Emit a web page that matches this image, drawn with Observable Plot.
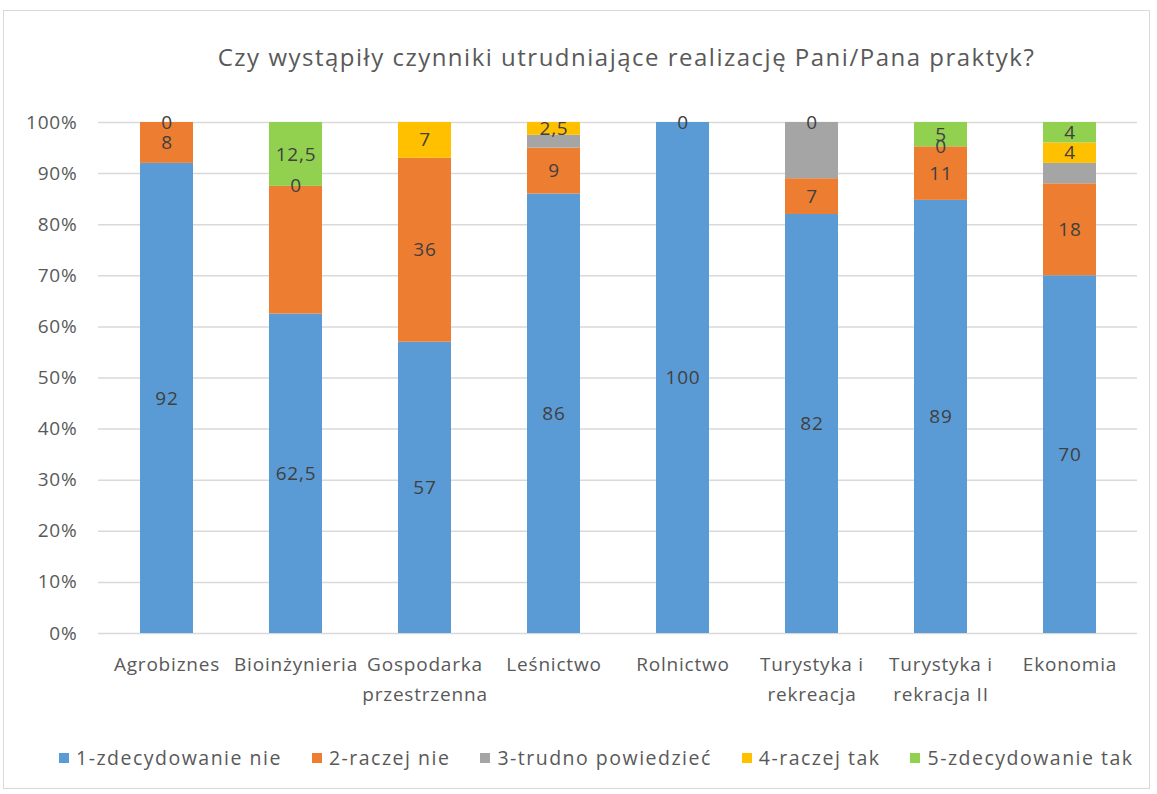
<!DOCTYPE html>
<html><head><meta charset="utf-8">
<script src="https://cdn.jsdelivr.net/npm/d3@7"></script>
<script src="https://cdn.jsdelivr.net/npm/@observablehq/plot@0.6"></script>
<style>
body{margin:0;background:#fff;font-family:"Open Sans",sans-serif;}
#frame{position:absolute;left:3px;top:10px;width:1147px;height:779px;border:1px solid #d9d9d9;box-sizing:border-box;}
#title{position:absolute;left:98px;width:1057px;top:40px;text-align:center;font-size:24px;letter-spacing:1.5px;color:#595959;}
#chart{position:absolute;left:0;top:90px;}
#legend{position:absolute;left:59px;top:744px;display:flex;gap:30px;font-size:19.5px;letter-spacing:1.5px;color:#595959;}
#legend .item{display:flex;align-items:center;}
#legend .sw{width:10px;height:10px;margin-right:7px;}
</style></head>
<body>
<div id="frame"></div>
<div id="title">Czy wystąpiły czynniki utrudniające realizację Pani/Pana praktyk?</div>
<div id="chart"></div>
<div id="legend"></div>
<script>
const categories = ["Agrobiznes","Bioinżynieria","Gospodarka przestrzenna","Leśnictwo","Rolnictwo","Turystyka i rekreacja","Turystyka i rekracja II","Ekonomia"];
const xTickLabels = ["Agrobiznes","Bioinżynieria","Gospodarka\nprzestrzenna","Leśnictwo","Rolnictwo","Turystyka i\nrekreacja","Turystyka i\nrekracja II","Ekonomia"];
const seriesNames = ["1-zdecydowanie nie","2-raczej nie","3-trudno powiedzieć","4-raczej tak","5-zdecydowanie tak"];
const colors = ["#5B9BD5","#ED7D31","#A5A5A5","#FFC000","#92D050"];
const s1 = [92,62.5,57,86,100,82,89,70];
const s2 = [8,25,36,9,0,7,11,18];
const s3 = [0,0,0,2.5,0,11,0,4];
const s4 = [0,0,7,2.5,0,0,0,4];
const s5 = [0,12.5,0,0,0,0,5,4];
// which data labels are visible in the original (1 = shown)
const show1 = [1,1,1,1,1,1,1,1];
const show2 = [1,0,1,1,0,1,1,1];
const show3 = [0,0,0,0,0,0,0,0];
const show4 = [1,1,1,1,1,1,1,1];
const show5 = [0,1,0,0,0,0,1,1];
const yTicks = [0,0.1,0.2,0.3,0.4,0.5,0.6,0.7,0.8,0.9,1];

const series = [s1,s2,s3,s4,s5];
const shows = [show1,show2,show3,show4,show5];
const fmt = v => String(v).replace(".", ",");
const rows = [];
categories.forEach((c,i) => {
  seriesNames.forEach((s,j) => {
    rows.push({category:c, series:s, value:series[j][i], label: shows[j][i] ? fmt(series[j][i]) : ""});
  });
});

const chart = Plot.plot({
  width:1157, height:630,
  marginLeft:98, marginRight:20, marginTop:32, marginBottom:87,
  style:{fontFamily:"'Open Sans', sans-serif", background:"transparent", letterSpacing:"0.8px"},
  x:{domain:categories, paddingInner:0.59, paddingOuter:0.295, label:null},
  y:{domain:[0,1], label:null},
  color:{domain:seriesNames, range:colors},
  marks:[
    Plot.gridY(yTicks, {stroke:"#d9d9d9", strokeOpacity:1, strokeWidth:1.5}),
    Plot.axisY(yTicks, {tickSize:0, tickPadding:21, tickFormat:d3.format(".0%"), label:null, fontSize:19, fill:"#595959"}),
    Plot.axisX({tickSize:0, tickPadding:17, lineHeight:1.55, fontSize:19, fill:"#595959", label:null,
      tickFormat: d => xTickLabels[categories.indexOf(d)]}),
    Plot.barY(rows, Plot.stackY({offset:"normalize", x:"category", y:"value", fill:"series", order:seriesNames})),
    Plot.text(rows, Plot.stackY({offset:"normalize", x:"category", y:"value", z:"series", order:seriesNames, text:"label", fill:"#404040", fontSize:19}))
  ]
});
document.getElementById("chart").appendChild(chart);

const legend = document.getElementById("legend");
seriesNames.forEach((s,j) => {
  const it = document.createElement("div"); it.className = "item";
  const sw = document.createElement("div"); sw.className = "sw"; sw.style.background = colors[j];
  const t = document.createElement("span"); t.textContent = s;
  it.appendChild(sw); it.appendChild(t); legend.appendChild(it);
});
</script>
</body></html>
